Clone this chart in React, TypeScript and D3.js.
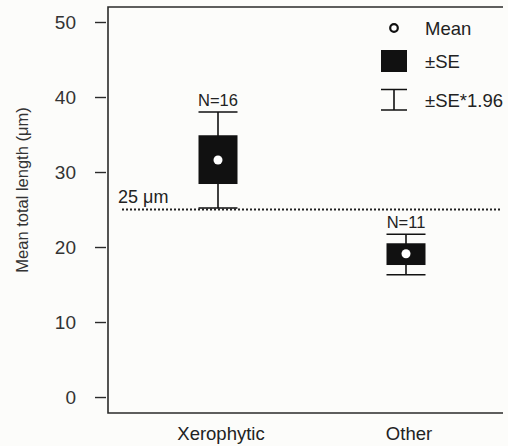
import React, { useEffect, useRef } from 'react';
import * as d3 from 'd3';

const categories = ['Xerophytic', 'Other'];
const means = [31.6, 19.1];
const seLow = [28.4, 17.6];
const seHigh = [34.9, 20.5];
const ciLow = [25.2, 16.3];
const ciHigh = [38.0, 21.7];
const sampleSizes = [16, 11];
const yTicks = [0, 10, 20, 30, 40, 50];
const threshold = 25;

const App = () => {
  const svgRef = useRef<SVGSVGElement>(null);

  useEffect(() => {
    const width = 508;
    const height = 446;
    const svg = d3.select(svgRef.current);
    svg.selectAll('*').remove();
    svg.attr('width', width).attr('height', height);

    const font = 'Liberation Sans, Arial, sans-serif';
    const axisX = 108;
    const plotTop = 7;
    const plotBottom = 413;
    const plotRight = 503;

    svg.append('rect').attr('width', width).attr('height', height).attr('fill', '#fcfcfa');

    const y = d3.scaleLinear().domain([-2.13, 52]).range([plotBottom, plotTop]);
    const x = d3.scalePoint<string>().domain(categories).range([218, 406]);
    const boxW = 39;

    // frame: left, top, bottom
    svg.append('path')
      .attr('d', `M${plotRight},${plotTop}H${axisX}V${plotBottom}H${plotRight}`)
      .attr('fill', 'none')
      .attr('stroke', '#2a2a2a')
      .attr('stroke-width', 1.6);

    // y axis ticks
    const yAxis = d3.axisLeft(y).tickValues(yTicks).tickSize(11).tickPadding(19);
    const gy = svg.append('g').attr('transform', `translate(${axisX - 2},0)`).call(yAxis);
    gy.select('.domain').remove();
    gy.selectAll('.tick line').attr('stroke', '#2a2a2a').attr('stroke-width', 1.4);
    gy.selectAll('.tick text')
      .attr('fill', '#333')
      .style('font-family', font)
      .style('font-size', '19px');

    // y axis label
    svg.append('text')
      .attr('transform', `translate(28,190) rotate(-90)`)
      .attr('text-anchor', 'middle')
      .attr('fill', '#333')
      .style('font-family', font)
      .style('font-size', '16.5px')
      .text('Mean total length (μm)');

    // x labels
    svg.selectAll('.xlab')
      .data(categories)
      .enter().append('text')
      .attr('x', d => (x(d) as number) + 3)
      .attr('y', 440)
      .attr('text-anchor', 'middle')
      .attr('fill', '#222')
      .style('font-family', font)
      .style('font-size', '18.5px')
      .text(d => d);

    // threshold line
    svg.append('line')
      .attr('x1', 122).attr('x2', 502)
      .attr('y1', y(threshold)).attr('y2', y(threshold))
      .attr('stroke', '#222')
      .attr('stroke-width', 2)
      .attr('stroke-dasharray', '2,2');
    svg.append('text')
      .attr('x', 118)
      .attr('y', y(threshold) - 6.5)
      .attr('fill', '#222')
      .style('font-family', font)
      .style('font-size', '18px')
      .text('25 μm');

    const data = categories.map((c, i) => ({
      c, mean: means[i], lo: seLow[i], hi: seHigh[i], cl: ciLow[i], ch: ciHigh[i], n: sampleSizes[i],
    }));

    const g = svg.selectAll('.grp').data(data).enter().append('g');
    g.append('line')
      .attr('x1', d => x(d.c) as number).attr('x2', d => x(d.c) as number)
      .attr('y1', d => y(d.ch)).attr('y2', d => y(d.cl))
      .attr('stroke', '#111').attr('stroke-width', 1.6);
    g.append('line')
      .attr('x1', d => (x(d.c) as number) - boxW / 2).attr('x2', d => (x(d.c) as number) + boxW / 2)
      .attr('y1', d => y(d.ch)).attr('y2', d => y(d.ch))
      .attr('stroke', '#111').attr('stroke-width', 1.6);
    g.append('line')
      .attr('x1', d => (x(d.c) as number) - boxW / 2).attr('x2', d => (x(d.c) as number) + boxW / 2)
      .attr('y1', d => y(d.cl)).attr('y2', d => y(d.cl))
      .attr('stroke', '#111').attr('stroke-width', 1.6);
    g.append('rect')
      .attr('x', d => (x(d.c) as number) - boxW / 2)
      .attr('width', boxW)
      .attr('y', d => y(d.hi))
      .attr('height', d => y(d.lo) - y(d.hi))
      .attr('fill', '#111');
    g.append('circle')
      .attr('cx', d => x(d.c) as number)
      .attr('cy', d => y(d.mean))
      .attr('r', 4.5)
      .attr('fill', '#fff');
    g.append('text')
      .attr('x', d => x(d.c) as number)
      .attr('y', d => y(d.ch) - 6)
      .attr('text-anchor', 'middle')
      .attr('fill', '#222')
      .style('font-family', font)
      .style('font-size', '16.5px')
      .text(d => `N=${d.n}`);

    // legend
    const lg = svg.append('g');
    lg.append('circle').attr('cx', 394).attr('cy', 28).attr('r', 3.8)
      .attr('fill', '#fff').attr('stroke', '#111').attr('stroke-width', 2.2);
    lg.append('rect').attr('x', 381).attr('y', 50).attr('width', 26).attr('height', 22).attr('fill', '#111');
    lg.append('path')
      .attr('d', 'M381,89.5H407M394,89.5V110M381,110H407')
      .attr('fill', 'none').attr('stroke', '#111').attr('stroke-width', 1.6);
    const legendLabels = ['Mean', '±SE', '±SE*1.96'];
    const legendY = [35, 68, 107];
    lg.selectAll('.lt').data(legendLabels).enter().append('text')
      .attr('x', 425)
      .attr('y', (_, i) => legendY[i])
      .attr('fill', '#222')
      .style('font-family', font)
      .style('font-size', '18.5px')
      .text(d => d);
  }, []);

  return (
    <svg ref={svgRef} style={{ position: 'absolute', left: 0, top: 0, display: 'block' }}></svg>
  );
};

export default App;
